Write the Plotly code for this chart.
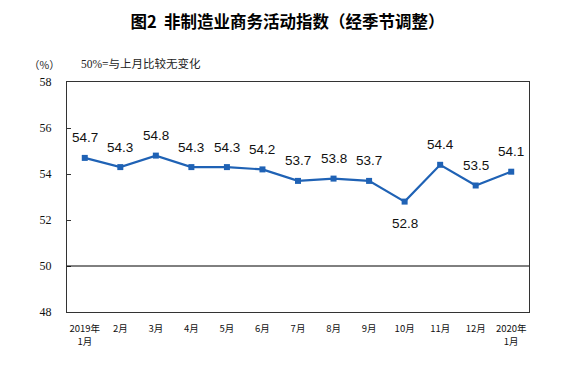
import plotly.graph_objects as go

months = ["2019年<br>1月", "2月", "3月", "4月", "5月", "6月", "7月", "8月", "9月", "10月", "11月", "12月", "2020年<br>1月"]
values = [54.7, 54.3, 54.8, 54.3, 54.3, 54.2, 53.7, 53.8, 53.7, 52.8, 54.4, 53.5, 54.1]
label_below = [False, False, False, False, False, False, False, False, False, True, False, False, False]
y_ticks = [48, 50, 52, 54, 56, 58]

line_color = "#1F62B5"
fig = go.Figure()
fig.add_trace(go.Scatter(
    x=list(range(len(months))), y=values, mode="lines+markers",
    line=dict(color=line_color, width=2.2),
    marker=dict(symbol="square", size=6, color=line_color),
    hoverinfo="skip", showlegend=False,
))
fig.add_hline(y=50, line=dict(color="black", width=1))

for i, (v, b) in enumerate(zip(values, label_below)):
    fig.add_annotation(x=i, y=v, text=f"{v:.1f}", showarrow=False,
                       yshift=-22 if b else 20,
                       font=dict(family="Liberation Sans, Arial", size=13.5, color="#111"))

fig.add_annotation(xref="paper", yref="paper", x=-0.048, y=1.074, text="（%）", showarrow=False,
                   xanchor="center", yanchor="middle",
                   font=dict(family="Noto Sans CJK SC", size=10.5, color="#222"))
fig.add_annotation(xref="paper", yref="paper", x=0.026, y=1.08, text="50%=与上月比较无变化", showarrow=False,
                   xanchor="left", yanchor="middle",
                   font=dict(family="Liberation Serif, Noto Sans CJK SC", size=11.5, color="#222"))

fig.update_layout(
    width=559, height=366,
    margin=dict(l=59, r=38, t=74, b=62),
    paper_bgcolor="white", plot_bgcolor="white",
    title=dict(text="<b>图2  非制造业商务活动指数（经季节调整）</b>", x=0.5, xanchor="center",
               y=0.962, yanchor="middle",
               font=dict(family="Noto Sans CJK SC", size=16.5, color="black")),
    xaxis=dict(range=[-0.5, len(months) - 0.5], tickmode="array",
               tickvals=list(range(len(months))), ticktext=months,
               showgrid=False, zeroline=False, showline=True, mirror=True,
               linecolor="#333", linewidth=1, ticks="", ticklabelstandoff=8,
               tickfont=dict(family="Noto Sans CJK SC", size=9.5, color="#111")),
    yaxis=dict(range=[48, 58], tickvals=y_ticks, showgrid=False, zeroline=False,
               showline=True, mirror=True, linecolor="#333", linewidth=1,
               ticks="inside", ticklen=4, tickcolor="#333", ticklabelstandoff=12,
               tickfont=dict(family="Liberation Serif, Times New Roman", size=12, color="#111")),
)
fig.write_html("out.html")
